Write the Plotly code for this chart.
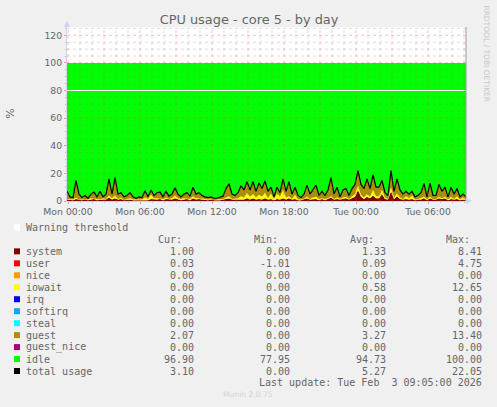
import pandas as pd
import plotly.graph_objects as go

# Values, one sample every 15 minutes
system = [1,1,.5,1.5,1,.5,1,.5,1,1.5,.5,1,1,1,2.5,1,2,1,1.5,.5,1,1,.5,
          .5,1,.5,1,.5,1.5,1,1,1.5,.5,1.5,1,1,2,1,.5,1,1.5,.5,2,1,1.5,
          1,.5,.5,1,.5,.5,.5,1,1.5,2,1,1,1,1.5,1,2,1,2,1,1.5,1,2,1,
          1.5,.5,1.5,1,2,1,2,1,1.5,.5,.5,1,2,1,1.5,1.5,.5,1.5,.5,1.5,2.5,1,1.5,
          1,1.5,2,1,2,3,8,3,1.5,3,2,4,2,2,5,1.5,1,7,1.5,3.5,1.5,1,
          1.5,1,1.5,.5,1,1,2,.5,2,1,1,2,1.5,2,.5,1.5,1,1.5,.5,1,.5]
iowait = [.5,0,.5,1,0,.5,0,.5,1,0,.5,0,1,.5,1.5,1,2,.5,1,0,.5,1,.5,
          .5,.5,.5,1.5,1,3,1,1,.5,1,1,.5,1,2,1,1,1,.5,1,1.5,1,.5,
          .5,.5,.5,.5,0,.5,.5,.5,1,1.5,.5,.5,1,2,1.5,4,2,3,1.5,3,2,4,1,
          4,1,4,2,6,1.5,1.5,.5,3,.5,.5,.5,1,.5,1,1.5,1,.5,1,.5,1,.5,1,
          .5,1,1,.5,1,2,3,1.5,1,2,1,4,1.5,1.5,3,1,.5,3,1,2,1,.5,
          2,1,2.5,.5,.5,1,1,.5,1,.5,.5,1,.5,1,.5,1.5,.5,2,.5,1.5,.5]
guest = [5.5,2,1.5,12.5,4,1.5,3,1,3,5,2,6,1,3.5,12,3,13,3.5,3.5,2.5,2.5,4,2,
         1,1.5,1.5,5,1.5,3.5,2,4,4.5,1.5,4.5,2,3,5.5,3,1.5,3,4,2,6.5,3,4,
         2.5,2,1.5,1.5,1.5,1,1.5,2,6.5,9,3.5,2.5,4,7.5,5.5,8,5,9,4.5,8.5,6,8.5,5,
         4.5,1.5,4.5,3,8,4.5,10.5,3.5,5.5,3,1.5,3.5,8.5,3.5,5.5,8.5,2.5,5,2.5,6,13.5,3.5,7.5,
         1.5,5.5,6,2.5,6,7,11,7.5,6.5,11,6,11,6.5,6.5,7,3.5,2.5,12,4.5,10.5,5.5,3.5,
         3.5,3,3,2,2.5,4,9.5,2,10,2.5,2.5,9,5,7,2,7,3.5,5.5,2,2.5,2]
idle = [93,97,97.5,85,95,97.5,96,98,95,93.5,97,93,97,95,84,95,83,95,94,97,96,94,97,
        98,97,97.5,92.5,97,92,96,94,93.5,97,93,96.5,95,90.5,95,97,95,94,96.5,90,95,94,
        96,97,97.5,97,98,98,97.5,96.5,91,87.5,95,96,94,89,92,86,92,86,93,87,91,85.5,93,
        90,97,90,94,84,93,86,95,90,96,97.5,95,88.5,95,92,88.5,96,93,96,92,83,95,90,
        97,92,91,96,91,88,78,88,91,84,91,81,90,90,85,94,96,78,93,84,92,95,
        93,95,93,97,96,94,87.5,97,87,96,96,88,93,90,97,90,95,91,97,95,97]
total_usage = [7,3,2.5,15,5,2.5,4,2,5,6.5,3,7,3,5,16,5,17,5,6,3,4,6,3,
               2,3,2.5,7.5,3,8,4,6,6.5,3,7,3.5,5,9.5,5,3,5,6,3.5,10,5,6,
               4,3,2.5,3,2,2,2.5,3.5,9,12.5,5,4,6,11,8,14,8,14,7,13,9,14.5,7,
               10,3,10,6,16,7,14,5,10,4,2.5,5,11.5,5,8,11.5,4,7,4,8,17,5,10,
               3,8,9,4,9,12,22,12,9,16,9,19,10,10,15,6,4,22,7,16,8,5,
               7,5,7,3,4,6,12.5,3,13,4,4,12,7,10,3,10,5,9,3,5,3]
warning_level = [80, 80]

# Legend table
names = ["system", "user", "nice", "iowait", "irq", "softirq", "steal",
         "guest", "guest_nice", "idle", "total usage"]
colors = ["#7f0000", "#ff0000", "#ff9900", "#ffff00", "#0000ff", "#00aaff",
          "#00ffff", "#aa8f00", "#aa0078", "#00ff00", "#000000"]
cur = ["1.00", "0.03", "0.00", "0.00", "0.00", "0.00", "0.00", "2.07", "0.00", "96.90", "3.10"]
mins = ["0.00", "-1.01", "0.00", "0.00", "0.00", "0.00", "0.00", "0.00", "0.00", "77.95", "0.00"]
avg = ["1.33", "0.09", "0.00", "0.58", "0.00", "0.00", "0.00", "3.27", "0.00", "94.73", "5.27"]
maxs = ["8.41", "4.75", "0.00", "12.65", "0.00", "0.00", "0.00", "13.40", "0.00", "100.00", "22.05"]
y_ticks = [0, 20, 40, 60, 80, 100, 120]
x_ticks = ["2026-02-02 00:00", "2026-02-02 06:00", "2026-02-02 12:00",
           "2026-02-02 18:00", "2026-02-03 00:00", "2026-02-03 06:00"]

times = pd.date_range("2026-02-01 23:55", periods=len(total_usage), freq="15min")
x_range = ["2026-02-01 23:55", "2026-02-03 09:10"]

W, H = 497, 407
LEFT, RIGHT, TOP, BOTTOM = 67, 466, 27, 201.5
TEXT = "#666666"
MONO = "DejaVu Sans Mono"


def fx(px):
    return (px - LEFT) / (RIGHT - LEFT)


def fy(py):
    return (BOTTOM - py) / (BOTTOM - TOP)


def label(px, py, text, anchor="left", size=10, color=TEXT, font=MONO, angle=0):
    fig.add_annotation(x=fx(px), y=fy(py), xref="paper", yref="paper", text=text,
                       showarrow=False, xanchor=anchor, yanchor="middle", textangle=angle,
                       font=dict(family=font, size=size, color=color),
                       borderpad=0, borderwidth=0)


def swatch(py, color):
    fig.add_shape(type="rect", xref="paper", yref="paper", x0=fx(14), x1=fx(20),
                  y0=fy(py + 3), y1=fy(py - 3), fillcolor=color, line_width=0)


fig = go.Figure()

# Stacked areas, bottom to top
for name, values, color in [("system", system, colors[0]), ("iowait", iowait, colors[3]),
                            ("guest", guest, colors[7]), ("idle", idle, colors[9])]:
    fig.add_trace(go.Scatter(x=times, y=values, name=name, mode="lines", stackgroup="cpu",
                             line=dict(width=0, color=color), fillcolor=color))

fig.add_trace(go.Scatter(x=times, y=total_usage, name="total usage", mode="lines",
                         line=dict(color="#000000", width=1.2)))

fig.update_layout(
    width=W, height=H, autosize=False, showlegend=False,
    paper_bgcolor="#f0f0f0", plot_bgcolor="#ffffff",
    margin=dict(l=LEFT, r=W - RIGHT, t=TOP, b=H - BOTTOM, pad=0),
    title=dict(text="CPU usage - core 5 - by day", x=249 / W, xanchor="center", y=1 - 19 / H,
               yanchor="middle", font=dict(family="DejaVu Sans", size=12.9, color="#666666")),
    xaxis=dict(type="date", range=x_range, tickvals=x_ticks, tickformat="%a %H:%M",
               showgrid=False, zeroline=False, ticks="outside", ticklen=2, tickcolor="#e0a0a0",
               tickfont=dict(family="DejaVu Sans", size=9.3, color=TEXT),
               showline=True, linecolor="#d0d4f0",
               minor=dict(dtick=3600000, ticks="outside", ticklen=1, tickcolor="#bbbbbb")),
    yaxis=dict(range=[0, 126], tickvals=y_ticks, showgrid=False, zeroline=False,
               ticks="outside", ticklen=2, tickcolor="#e0a0a0",
               tickfont=dict(family="DejaVu Sans", size=9.3, color=TEXT),
               showline=True, linecolor="#d0d4f0",
               minor=dict(dtick=5, ticks="outside", ticklen=1, tickcolor="#bbbbbb")),
)

# Grid is drawn over the areas, as rrdtool does
for hour in range(0, 34):
    t = pd.Timestamp("2026-02-02 00:00") + pd.Timedelta(hours=hour)
    major = hour % 3 == 0
    fig.add_shape(type="line", xref="x", yref="paper", x0=t, x1=t, y0=0, y1=1, layer="above",
                  line=dict(color="rgba(230,80,80,0.35)" if major else "rgba(130,130,130,0.28)",
                            width=1, dash="dot"))
for level in range(5, 126, 5):
    if level == 80:
        continue
    major = level % 20 == 0
    fig.add_shape(type="line", xref="paper", yref="y", x0=0, x1=1, y0=level, y1=level, layer="above",
                  line=dict(color="rgba(230,80,80,0.35)" if major else "rgba(130,130,130,0.28)",
                            width=1, dash="dot"))

# Warning threshold sits on top of the grid
fig.add_shape(type="line", xref="paper", yref="y", x0=0, x1=1, y0=warning_level[0], y1=warning_level[1],
              layer="above", line=dict(color="#ffffff", width=1.2))

# Right border and the axis arrows
fig.add_shape(type="line", xref="paper", yref="paper", x0=1, x1=1, y0=0, y1=1,
              line=dict(color="#999999", width=1))
fig.add_shape(type="path", xref="paper", yref="paper", fillcolor="#ccd4f8", line_width=0,
              path=f"M {fx(64)} {fy(27)} L {fx(70)} {fy(27)} L {fx(67)} {fy(21)} Z")
fig.add_shape(type="path", xref="paper", yref="paper", fillcolor="#ccd4f8", line_width=0,
              path=f"M {fx(466)} {fy(198.5)} L {fx(466)} {fy(204.5)} L {fx(472)} {fy(201.5)} Z")

label(11, 114, "%", anchor="center", size=11, font="DejaVu Sans", angle=-90)
label(487, 53.5, "RRDTOOL / TOBI OETIKER", anchor="center", size=7.5, color="#c8c8c8",
      font="DejaVu Sans", angle=90)
label(248, 396, "Munin 2.0.75", anchor="center", size=7.6, color="#d4d4d4", font="DejaVu Sans")

swatch(228, "#ffffff")
label(26, 228, "Warning threshold")
label(182, 240, "Cur:", anchor="right")
label(278, 240, "Min:", anchor="right")
label(374, 240, "Avg:", anchor="right")
label(470, 240, "Max:", anchor="right")
for i, name in enumerate(names):
    row = 252 + 12 * i
    swatch(row, colors[i])
    label(26, row, name)
    label(194, row, cur[i], anchor="right")
    label(290, row, mins[i], anchor="right")
    label(386, row, avg[i], anchor="right")
    label(482, row, maxs[i], anchor="right")
label(482, 384, "Last update: Tue Feb&nbsp;&nbsp;3 09:05:00 2026", anchor="right")

fig.write_html("out.html", config=dict(displayModeBar=False),
               post_script="document.body.style.margin='0';")
